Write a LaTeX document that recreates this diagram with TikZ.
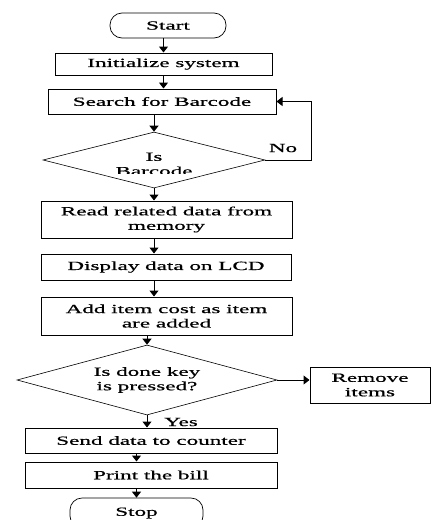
\documentclass[tikz,border=0pt]{standalone}
\usepackage{fontspec}
\setmainfont[FakeStretch=1.85,FakeBold=0.6]{Liberation Serif}
\usetikzlibrary{shapes.geometric,arrows.meta}
\newcommand{\flowarrow}[2]{%
\draw[arr] (#1) -- (#2);
}

\begin{document}
\begin{tikzpicture}[x=1pt,y=1pt,
  font=\fontsize{12.5}{14.4}\selectfont,
  box/.style={draw,line width=1pt,inner sep=0pt,align=center},
  term/.style={draw,line width=0.7pt,rounded corners=12pt,inner sep=0pt},
  decision/.style={draw,diamond,line width=0.6pt,inner sep=0pt},
  arr/.style={line width=1pt,-{Triangle[width=9pt,length=6pt]}}]

\clip (0,0) rectangle (439,-520);

% main column
\node[term,minimum width=116,minimum height=25] (start) at (168,-25.5) {Start};
\node[box,minimum width=217,minimum height=22] (init) at (163.5,-64) {Initialize system};
\node[box,minimum width=228,minimum height=25] (search) at (162,-101.5) {Search for Barcode};
\node[decision,minimum width=222,minimum height=56] (dec1) at (154,-160) {};
\begin{scope}
\clip (100,-135) rectangle (210,-173.5);
\node[align=center] (dec1txt) at (154,-164) {Is\\Barcode};
\end{scope}
\node[box,minimum width=251,minimum height=37] (read) at (166.5,-219.5) {Read related data from\\memory};
\node[box,minimum width=250,minimum height=26] (lcd) at (166,-267) {Display data on LCD};
\node[box,minimum width=251,minimum height=38] (add) at (166.5,-316) {Add item cost as item\\are added};
\node[decision,minimum width=260,minimum height=70] (dec2) at (147,-380) {};
\node[align=center] (dec2txt) at (147,-380) {Is done key\\is pressed?};
\node[box,minimum width=120,minimum height=36] (remove) at (370,-385) {Remove\\items};
\node[box,minimum width=252,minimum height=25] (send) at (151,-440.5) {Send data to counter};
\node[box,minimum width=252,minimum height=26] (print) at (151,-475) {Print the bill};
\node[term,minimum width=133,minimum height=30] (stop) at (136.5,-513) {Stop};

% labels
\node (nolab) at (283,-148) {No};
\node (yeslab) at (181,-422) {Yes};

% arrows
\flowarrow{start.south -| init}{init.north}
\flowarrow{init.south}{init.south |- search.north}
\flowarrow{search.south -| dec1}{dec1.north}
\flowarrow{dec1.south}{dec1.south |- read.north}
\flowarrow{read.south -| dec1}{lcd.north -| dec1}
\flowarrow{lcd.south -| dec1}{add.north -| dec1}
\flowarrow{add.south -| dec2}{dec2.north}
\flowarrow{dec2.south}{dec2.south |- send.north}
\flowarrow{send.south -| stop}{print.north -| stop}
\flowarrow{print.south -| stop}{stop.north}
\flowarrow{dec2.east}{dec2.east -| remove.west}

% no loop
\coordinate (noturn) at (311,-160);
\draw[arr] (dec1.east) -- (noturn) |- (search.east);

\end{tikzpicture}
\end{document}
